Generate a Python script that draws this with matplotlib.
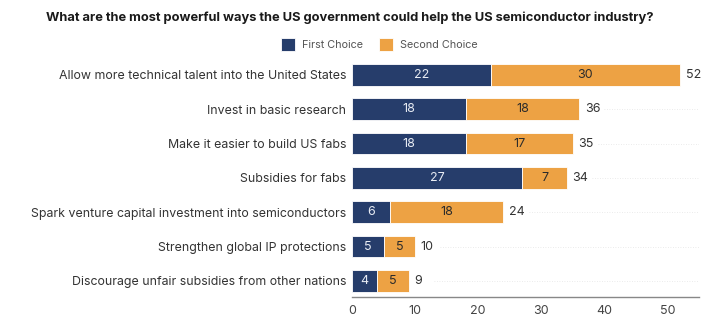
import matplotlib.pyplot as plt
import numpy as np

plt.rcParams['font.family'] = ['Inter', 'DejaVu Sans']

categories = [
    "Allow more technical talent into the United States",
    "Invest in basic research",
    "Make it easier to build US fabs",
    "Subsidies for fabs",
    "Spark venture capital investment into semiconductors",
    "Strengthen global IP protections",
    "Discourage unfair subsidies from other nations",
]
first_choice = [22, 18, 18, 27, 6, 5, 4]
second_choice = [30, 18, 17, 7, 18, 5, 5]
totals = [52, 36, 35, 34, 24, 10, 9]

navy = "#263d6b"
orange = "#eda244"

fig = plt.figure(figsize=(7.09, 3.23), dpi=100)
ax = fig.add_axes([0.4965, 0.0805, 0.4895, 0.7406])

y = np.arange(len(categories))
h = 0.63
ax.barh(y, first_choice, height=h, color=navy, edgecolor="white", linewidth=0.6, label="First Choice")
ax.barh(y, second_choice, left=first_choice, height=h, color=orange, edgecolor="white", linewidth=0.6, label="Second Choice")

for i in range(len(categories)):
    f, s, t = first_choice[i], second_choice[i], totals[i]
    ax.text(f / 2, i, str(f), ha="center", va="center", color="#e8ecf4", fontsize=9)
    ax.text(f + s / 2, i, str(s), ha="center", va="center", color="#2b2b2b", fontsize=9)
    ax.text(t + 0.9, i, str(t), ha="left", va="center", color="#333333", fontsize=9)
    # faint dotted guide
    ax.plot([t + 4, 55], [i, i], color="#e4e4e4", linestyle=(0, (1, 2)), linewidth=0.6, zorder=0)

ax.set_xlim(0, 55)
ax.set_ylim(len(categories) - 1 + 0.466, -0.5)
ax.set_yticks(y)
ax.set_yticklabels(categories, fontsize=8.9, color="#333333")
ax.set_xticks([0, 10, 20, 30, 40, 50])
ax.tick_params(axis="x", labelsize=9, colors="#444444", length=0, pad=6)
ax.tick_params(axis="y", length=0, pad=4)
for sp in ["top", "right", "left"]:
    ax.spines[sp].set_visible(False)
ax.spines["bottom"].set_color("#888888")
ax.spines["bottom"].set_linewidth(1.0)

fig.text(0.493, 0.945, "What are the most powerful ways the US government could help the US semiconductor industry?",
         ha="center", va="center", fontsize=9.3, fontweight="bold", color="#1a1a1a")

fig.legend(loc="center", bbox_to_anchor=(0.535, 0.862), ncol=2, frameon=False, fontsize=7.8,
           handlelength=1.3, handleheight=1.4, columnspacing=1.5, handletextpad=0.6,
           labelcolor="#555555")

fig.savefig("out.png", dpi=100)
